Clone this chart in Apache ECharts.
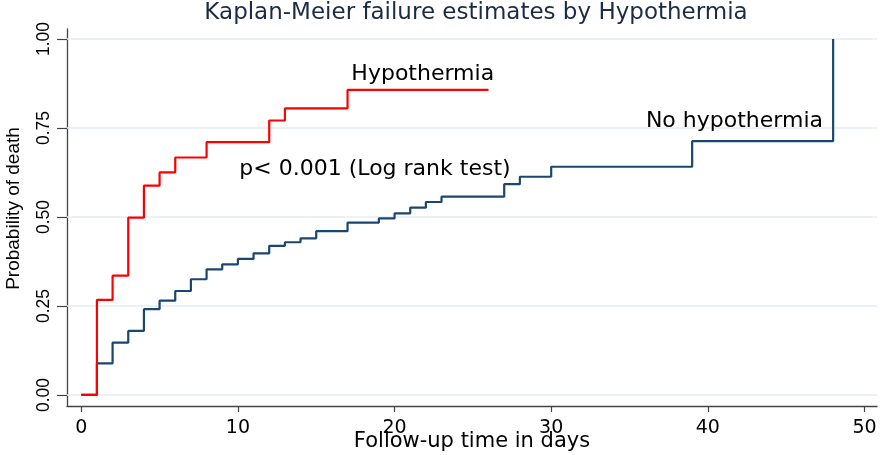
<!DOCTYPE html>
<html>
<head>
<meta charset="utf-8">
<script src="https://cdn.jsdelivr.net/npm/echarts@6/dist/echarts.min.js"></script>
<style>
html,body{margin:0;padding:0;background:#ffffff;}
#chart{width:882px;height:455px;}
</style>
</head>
<body>
<div id="chart"></div>
<script>
// ---- data ----
const titleText = 'Kaplan-Meier failure estimates by Hypothermia';
const xTicks = [0, 10, 20, 30, 40, 50];
const yTicks = [0, 0.25, 0.5, 0.75, 1];
// Hypothermia group: [day, cumulative failure probability]
const hypoTimes  = [0, 1, 2, 3, 4, 5, 6, 8, 12, 13, 17, 26];
const hypoValues = [0, 0.267, 0.335, 0.498, 0.588, 0.625, 0.667, 0.710, 0.771, 0.805, 0.857, 0.857];
// No hypothermia group
const noHypoTimes  = [0, 1, 2, 3, 4, 5, 6, 7, 8, 9, 10, 11, 12, 13, 14, 15, 17, 19, 20, 21, 22, 23, 27, 28, 30, 39, 48];
const noHypoValues = [0, 0.089, 0.147, 0.180, 0.241, 0.265, 0.292, 0.325, 0.353, 0.367, 0.382, 0.398, 0.419, 0.429, 0.440, 0.460, 0.484, 0.496, 0.510, 0.526, 0.542, 0.557, 0.592, 0.613, 0.641, 0.713, 1.0];
// text annotations (data coordinates)
const annotations = [
  { text: 'Hypothermia', x: 21.8, y: 0.90 },
  { text: 'No hypothermia', x: 41.7, y: 0.77 },
  { text: 'p< 0.001 (Log rank test)', x: 18.75, y: 0.635 }
];

const hypoData = hypoTimes.map((t, i) => [t, hypoValues[i]]);
const noHypoData = noHypoTimes.map((t, i) => [t, noHypoValues[i]]);

const hFont = 'DejaVu Sans';
const vFont = 'Liberation Sans';

const chart = echarts.init(document.getElementById('chart'), null, { renderer: 'canvas' });
chart.setOption({
  animation: false,
  backgroundColor: '#ffffff',
  title: {
    text: titleText,
    left: 476,
    textAlign: 'center',
    top: 1,
    padding: 0,
    textStyle: { fontFamily: hFont, fontSize: 23, fontWeight: 'normal', color: '#1c2b45', lineHeight: 24 }
  },
  grid: { left: 67, right: 5, top: 29, bottom: 49, containLabel: false, outerBoundsMode: 'none' },
  xAxis: {
    type: 'value',
    min: -0.91,
    max: 50.8,
    name: 'Follow-up time in days',
    nameLocation: 'middle',
    nameGap: 25,
    nameMoveOverlap: false,
    nameTextStyle: { fontFamily: hFont, fontSize: 21, color: '#000', lineHeight: 22 },
    axisLine: { show: true, onZero: false, lineStyle: { color: '#444', width: 1.3 } },
    axisTick: { show: true, customValues: xTicks, length: 6, lineStyle: { color: '#444', width: 1.2 } },
    axisLabel: { customValues: xTicks, margin: 13, fontFamily: hFont, fontSize: 19, color: '#000' },
    splitLine: { show: false }
  },
  yAxis: {
    type: 'value',
    min: -0.031,
    max: 1.028,
    name: 'Probability of death',
    nameLocation: 'middle',
    nameGap: 44,
    nameMoveOverlap: false,
    nameTextStyle: { fontFamily: vFont, fontSize: 19, color: '#000', padding: [0, 0, 0, 18] },
    axisLine: { show: true, onZero: false, lineStyle: { color: '#444', width: 1.3 } },
    axisTick: { show: true, customValues: yTicks, length: 10, lineStyle: { color: '#444', width: 1.2 } },
    axisLabel: {
      customValues: yTicks, rotate: 90, margin: 14,
      fontFamily: vFont, fontSize: 17.5, color: '#000',
      formatter: v => v.toFixed(2)
    },
    splitLine: { show: false }
  },
  series: [
    {
      type: 'line',
      data: [],
      z: 1,
      silent: true,
      markLine: {
        z: 1,
        silent: true,
        symbol: ['none', 'none'],
        label: { show: false },
        lineStyle: { color: '#e4edf2', width: 1.5, type: 'solid' },
        data: yTicks.map(v => ({ yAxis: v }))
      }
    },
    {
      name: 'No hypothermia',
      type: 'line',
      step: 'end',
      data: noHypoData,
      showSymbol: false,
      symbol: 'none',
      z: 3,
      lineStyle: { color: '#1a476f', width: 2.2 },
      markPoint: {
        symbol: 'circle',
        symbolSize: 0,
        label: { show: true, position: 'inside', formatter: '{b}', fontFamily: hFont, fontSize: 22, color: '#000' },
        data: annotations.slice(1).map(a => ({ name: a.text, coord: [a.x, a.y] }))
      }
    },
    {
      name: 'Hypothermia',
      type: 'line',
      step: 'end',
      data: hypoData,
      showSymbol: false,
      symbol: 'none',
      z: 4,
      lineStyle: { color: '#ff0000', width: 2.2 },
      markPoint: {
        symbol: 'circle',
        symbolSize: 0,
        label: { show: true, position: 'inside', formatter: '{b}', fontFamily: hFont, fontSize: 22, color: '#000' },
        data: annotations.slice(0, 1).map(a => ({ name: a.text, coord: [a.x, a.y] }))
      }
    }
  ]
});
</script>
</body>
</html>
